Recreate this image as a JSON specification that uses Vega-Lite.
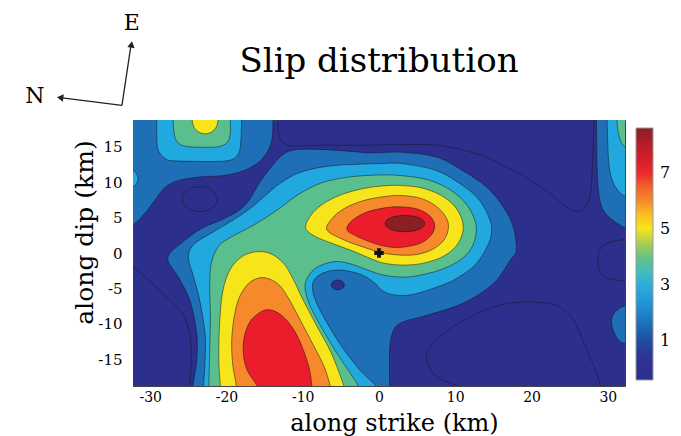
{
"$schema": "https://vega.github.io/schema/vega-lite/v6.json",
"width": 492,
"height": 266,
"autosize": {"type": "none"},
"padding": {"left": 133, "top": 120, "right": 56, "bottom": 50},
"background": "white",
"config": {"view": {"fill": "#2d2f8c", "stroke": "#444", "strokeWidth": 1}},
"title": {"text": "Slip distribution", "font": "DejaVu Serif", "fontSize": 34, "fontWeight": "normal", "color": "black", "anchor": "middle", "frame": "group", "baseline": "alphabetic", "offset": -94},
"datasets": {
"poly": [
{"l":"n","p":"N1","x":-21.2,"y":7.6},{"l":"n","p":"N1","x":-21.51,"y":8.48},{"l":"n","p":"N1","x":-22.35,"y":9.12},{"l":"n","p":"N1","x":-23.5,"y":9.35},{"l":"n","p":"N1","x":-24.65,"y":9.12},{"l":"n","p":"N1","x":-25.49,"y":8.48},{"l":"n","p":"N1","x":-25.8,"y":7.6},{"l":"n","p":"N1","x":-25.49,"y":6.73},{"l":"n","p":"N1","x":-24.65,"y":6.08},{"l":"n","p":"N1","x":-23.5,"y":5.85},{"l":"n","p":"N1","x":-22.35,"y":6.08},{"l":"n","p":"N1","x":-21.51,"y":6.73},
{"l":"n","p":"N2","x":-34,"y":-1.8},{"l":"n","p":"N2","x":-32.25,"y":-2.0},{"l":"n","p":"N2","x":-30,"y":-4.0},{"l":"n","p":"N2","x":-28,"y":-6.0},{"l":"n","p":"N2","x":-26.5,"y":-7.6},{"l":"n","p":"N2","x":-25.5,"y":-9.0},{"l":"n","p":"N2","x":-24.9,"y":-11},{"l":"n","p":"N2","x":-24.6,"y":-13.5},{"l":"n","p":"N2","x":-24.65,"y":-16},{"l":"n","p":"N2","x":-24.8,"y":-18.75},{"l":"n","p":"N2","x":-24.9,"y":-20},{"l":"n","p":"N2","x":-34,"y":-20},
{"l":"n","p":"N3","x":6.2,"y":-14.3},{"l":"n","p":"N3","x":7.4,"y":-12.4},{"l":"n","p":"N3","x":9.5,"y":-10.5},{"l":"n","p":"N3","x":12,"y":-9.0},{"l":"n","p":"N3","x":14.5,"y":-7.8},{"l":"n","p":"N3","x":17,"y":-7.1},{"l":"n","p":"N3","x":20,"y":-6.9},{"l":"n","p":"N3","x":23.3,"y":-7.4},{"l":"n","p":"N3","x":25.4,"y":-9.3},{"l":"n","p":"N3","x":26.8,"y":-12.5},{"l":"n","p":"N3","x":28,"y":-15.5},{"l":"n","p":"N3","x":28.6,"y":-17},{"l":"n","p":"N3","x":29,"y":-18.75},{"l":"n","p":"N3","x":29.2,"y":-20},{"l":"n","p":"N3","x":10.5,"y":-20},{"l":"n","p":"N3","x":10.2,"y":-18.75},{"l":"n","p":"N3","x":7.6,"y":-17.5},{"l":"n","p":"N3","x":6.5,"y":-15.8},
{"l":"n","p":"N4","x":34,"y":2.1},{"l":"n","p":"N4","x":32.25,"y":1.9},{"l":"n","p":"N4","x":30.5,"y":1.6},{"l":"n","p":"N4","x":29.3,"y":1.0},{"l":"n","p":"N4","x":28.8,"y":0},{"l":"n","p":"N4","x":28.7,"y":-1.2},{"l":"n","p":"N4","x":28.9,"y":-2.5},{"l":"n","p":"N4","x":29.6,"y":-3.4},{"l":"n","p":"N4","x":31,"y":-3.8},{"l":"n","p":"N4","x":32.25,"y":-3.9},{"l":"n","p":"N4","x":34,"y":-4.1},
{"l":"n","p":"N5","x":-13.3,"y":20},{"l":"n","p":"N5","x":-13.3,"y":18.75},{"l":"n","p":"N5","x":-13.1,"y":16.5},{"l":"n","p":"N5","x":-12.5,"y":15.5},{"l":"n","p":"N5","x":-11,"y":15.1},{"l":"n","p":"N5","x":-7,"y":15.2},{"l":"n","p":"N5","x":-1.2,"y":15.2},{"l":"n","p":"N5","x":3,"y":15.3},{"l":"n","p":"N5","x":7.6,"y":15.2},{"l":"n","p":"N5","x":11,"y":14.5},{"l":"n","p":"N5","x":14.1,"y":13.5},{"l":"n","p":"N5","x":16.5,"y":12.2},{"l":"n","p":"N5","x":18.5,"y":11.2},{"l":"n","p":"N5","x":20.5,"y":9.8},{"l":"n","p":"N5","x":22.4,"y":8.4},{"l":"n","p":"N5","x":24,"y":7.0},{"l":"n","p":"N5","x":25,"y":6.2},{"l":"n","p":"N5","x":26,"y":5.9},{"l":"n","p":"N5","x":26.8,"y":6.2},{"l":"n","p":"N5","x":27.5,"y":7.5},{"l":"n","p":"N5","x":27.8,"y":9.0},{"l":"n","p":"N5","x":28.0,"y":13},{"l":"n","p":"N5","x":28.2,"y":18.75},{"l":"n","p":"N5","x":28.3,"y":20},
{"l":"m","p":"A","x":-34,"y":20},{"l":"m","p":"A","x":-34,"y":3.85},{"l":"m","p":"A","x":-32.25,"y":4.0},{"l":"m","p":"A","x":-30.7,"y":5.6},{"l":"m","p":"A","x":-29.4,"y":7.4},{"l":"m","p":"A","x":-28.0,"y":9.3},{"l":"m","p":"A","x":-26.3,"y":10.2},{"l":"m","p":"A","x":-23.7,"y":10.7},{"l":"m","p":"A","x":-20.6,"y":10.9},{"l":"m","p":"A","x":-18.0,"y":11.5},{"l":"m","p":"A","x":-16.3,"y":12.4},{"l":"m","p":"A","x":-15.3,"y":13.3},{"l":"m","p":"A","x":-14.5,"y":14.5},{"l":"m","p":"A","x":-14.0,"y":16.2},{"l":"m","p":"A","x":-13.9,"y":18.75},{"l":"m","p":"A","x":-13.9,"y":20},
{"l":"m","p":"B","x":-24.4,"y":-20},{"l":"m","p":"B","x":-24.4,"y":-18.75},{"l":"m","p":"B","x":-23.9,"y":-15.1},{"l":"m","p":"B","x":-23.9,"y":-11.3},{"l":"m","p":"B","x":-24.8,"y":-6.7},{"l":"m","p":"B","x":-26.3,"y":-3.4},{"l":"m","p":"B","x":-27.7,"y":-0.7},{"l":"m","p":"B","x":-25.8,"y":1.5},{"l":"m","p":"B","x":-23.2,"y":3.5},{"l":"m","p":"B","x":-20.2,"y":4.9},{"l":"m","p":"B","x":-17.6,"y":6.7},{"l":"m","p":"B","x":-15.6,"y":10.0},{"l":"m","p":"B","x":-14.5,"y":11.6},{"l":"m","p":"B","x":-13.0,"y":13.5},{"l":"m","p":"B","x":-11.3,"y":14.5},{"l":"m","p":"B","x":-7.7,"y":14.6},{"l":"m","p":"B","x":-3.4,"y":14.3},{"l":"m","p":"B","x":-1.2,"y":14.1},{"l":"m","p":"B","x":3.1,"y":14.2},{"l":"m","p":"B","x":7.6,"y":13.5},{"l":"m","p":"B","x":11,"y":11.6},{"l":"m","p":"B","x":14.1,"y":9.3},{"l":"m","p":"B","x":16.3,"y":6.5},{"l":"m","p":"B","x":17.6,"y":3.7},{"l":"m","p":"B","x":18.0,"y":0.4},{"l":"m","p":"B","x":17.2,"y":-1.0},{"l":"m","p":"B","x":15,"y":-4.3},{"l":"m","p":"B","x":11,"y":-7.1},{"l":"m","p":"B","x":6.2,"y":-8.8},{"l":"m","p":"B","x":3.2,"y":-9.7},{"l":"m","p":"B","x":1.9,"y":-10.9},{"l":"m","p":"B","x":1.4,"y":-13.7},{"l":"m","p":"B","x":1.4,"y":-18.75},{"l":"m","p":"B","x":1.4,"y":-20},
{"l":"m","p":"M2","x":28.5,"y":20},{"l":"m","p":"M2","x":28.5,"y":18.75},{"l":"m","p":"M2","x":28.6,"y":12},{"l":"m","p":"M2","x":28.8,"y":8.5},{"l":"m","p":"M2","x":29.2,"y":6.5},{"l":"m","p":"M2","x":30.0,"y":5.2},{"l":"m","p":"M2","x":31.2,"y":4.2},{"l":"m","p":"M2","x":32.25,"y":3.6},{"l":"m","p":"M2","x":34,"y":3.4},{"l":"m","p":"M2","x":34,"y":20},
{"l":"m","p":"M3","x":34,"y":-7.2},{"l":"m","p":"M3","x":32.25,"y":-7.4},{"l":"m","p":"M3","x":30.8,"y":-8.5},{"l":"m","p":"M3","x":30.5,"y":-10},{"l":"m","p":"M3","x":31.2,"y":-12},{"l":"m","p":"M3","x":32.25,"y":-12.8},{"l":"m","p":"M3","x":34,"y":-13},
{"l":"nd","p":"ND","x":-4.55,"y":-4.5},{"l":"nd","p":"ND","x":-4.8,"y":-4.0},{"l":"nd","p":"ND","x":-5.4,"y":-3.8},{"l":"nd","p":"ND","x":-6.0,"y":-4.0},{"l":"nd","p":"ND","x":-6.25,"y":-4.5},{"l":"nd","p":"ND","x":-6.0,"y":-5.0},{"l":"nd","p":"ND","x":-5.4,"y":-5.2},{"l":"nd","p":"ND","x":-4.8,"y":-5.0},
{"l":"c","p":"C1","x":-23.0,"y":-20},{"l":"c","p":"C1","x":-23.0,"y":-18.75},{"l":"c","p":"C1","x":-22.8,"y":-15},{"l":"c","p":"C1","x":-22.8,"y":-11.4},{"l":"c","p":"C1","x":-23.5,"y":-6.7},{"l":"c","p":"C1","x":-24.3,"y":-3.4},{"l":"c","p":"C1","x":-25.0,"y":-0.5},{"l":"c","p":"C1","x":-24.2,"y":1.3},{"l":"c","p":"C1","x":-22,"y":2.8},{"l":"c","p":"C1","x":-19.5,"y":4.4},{"l":"c","p":"C1","x":-17,"y":6.2},{"l":"c","p":"C1","x":-15,"y":8.0},{"l":"c","p":"C1","x":-13,"y":9.8},{"l":"c","p":"C1","x":-10.5,"y":11.3},{"l":"c","p":"C1","x":-7,"y":12.2},{"l":"c","p":"C1","x":-3,"y":12.5},{"l":"c","p":"C1","x":0,"y":12.6},{"l":"c","p":"C1","x":3.1,"y":12.6},{"l":"c","p":"C1","x":7.6,"y":11.6},{"l":"c","p":"C1","x":11,"y":9.5},{"l":"c","p":"C1","x":13.2,"y":7.4},{"l":"c","p":"C1","x":14.6,"y":4.5},{"l":"c","p":"C1","x":14.7,"y":2.5},{"l":"c","p":"C1","x":14.0,"y":0.5},{"l":"c","p":"C1","x":12.5,"y":-1.8},{"l":"c","p":"C1","x":10,"y":-3.7},{"l":"c","p":"C1","x":7.6,"y":-4.8},{"l":"c","p":"C1","x":5,"y":-5.7},{"l":"c","p":"C1","x":3.2,"y":-6.0},{"l":"c","p":"C1","x":1.5,"y":-5.8},{"l":"c","p":"C1","x":0.3,"y":-5.2},{"l":"c","p":"C1","x":-0.5,"y":-4.3},{"l":"c","p":"C1","x":-2,"y":-3.2},{"l":"c","p":"C1","x":-3.8,"y":-2.6},{"l":"c","p":"C1","x":-5.5,"y":-2.4},{"l":"c","p":"C1","x":-7.3,"y":-2.8},{"l":"c","p":"C1","x":-8.5,"y":-3.8},{"l":"c","p":"C1","x":-8.7,"y":-5.2},{"l":"c","p":"C1","x":-8.2,"y":-7},{"l":"c","p":"C1","x":-7,"y":-9.5},{"l":"c","p":"C1","x":-5,"y":-13},{"l":"c","p":"C1","x":-2.5,"y":-16.5},{"l":"c","p":"C1","x":-0.4,"y":-18.75},{"l":"c","p":"C1","x":-0.2,"y":-20},
{"l":"c","p":"C2","x":-29.2,"y":20},{"l":"c","p":"C2","x":-29.15,"y":18.75},{"l":"c","p":"C2","x":-29.1,"y":15.5},{"l":"c","p":"C2","x":-28.8,"y":14.2},{"l":"c","p":"C2","x":-28,"y":13.3},{"l":"c","p":"C2","x":-27,"y":13.0},{"l":"c","p":"C2","x":-23,"y":12.9},{"l":"c","p":"C2","x":-20,"y":13.0},{"l":"c","p":"C2","x":-18.8,"y":13.5},{"l":"c","p":"C2","x":-18.2,"y":14.8},{"l":"c","p":"C2","x":-18.0,"y":18.75},{"l":"c","p":"C2","x":-18.0,"y":20},
{"l":"c","p":"C3","x":-34,"y":11.8},{"l":"c","p":"C3","x":-32.25,"y":11.6},{"l":"c","p":"C3","x":-31.7,"y":11.0},{"l":"c","p":"C3","x":-31.6,"y":10.4},{"l":"c","p":"C3","x":-31.8,"y":9.8},{"l":"c","p":"C3","x":-32.25,"y":9.4},{"l":"c","p":"C3","x":-34,"y":9.2},
{"l":"c","p":"C4","x":29.9,"y":20},{"l":"c","p":"C4","x":29.9,"y":18.75},{"l":"c","p":"C4","x":30.1,"y":13},{"l":"c","p":"C4","x":30.5,"y":10.5},{"l":"c","p":"C4","x":31.2,"y":9},{"l":"c","p":"C4","x":32.25,"y":8.0},{"l":"c","p":"C4","x":34,"y":7.7},{"l":"c","p":"C4","x":34,"y":20},
{"l":"g","p":"G1","x":-22.3,"y":-20},{"l":"g","p":"G1","x":-22.3,"y":-18.75},{"l":"g","p":"G1","x":-22.2,"y":-14},{"l":"g","p":"G1","x":-22.1,"y":-9},{"l":"g","p":"G1","x":-22.2,"y":-5},{"l":"g","p":"G1","x":-22.0,"y":-1.5},{"l":"g","p":"G1","x":-21,"y":1.0},{"l":"g","p":"G1","x":-19.3,"y":2.3},{"l":"g","p":"G1","x":-17,"y":3.6},{"l":"g","p":"G1","x":-14.8,"y":5.0},{"l":"g","p":"G1","x":-12.8,"y":6.5},{"l":"g","p":"G1","x":-10.5,"y":8.3},{"l":"g","p":"G1","x":-7.5,"y":9.9},{"l":"g","p":"G1","x":-4,"y":10.7},{"l":"g","p":"G1","x":0,"y":11.0},{"l":"g","p":"G1","x":3,"y":10.9},{"l":"g","p":"G1","x":6.5,"y":10.3},{"l":"g","p":"G1","x":9.5,"y":8.8},{"l":"g","p":"G1","x":11.5,"y":6.8},{"l":"g","p":"G1","x":12.6,"y":4.5},{"l":"g","p":"G1","x":12.7,"y":2.5},{"l":"g","p":"G1","x":12,"y":0.5},{"l":"g","p":"G1","x":10.5,"y":-1.1},{"l":"g","p":"G1","x":8,"y":-2.4},{"l":"g","p":"G1","x":5,"y":-3.2},{"l":"g","p":"G1","x":3,"y":-3.4},{"l":"g","p":"G1","x":0.5,"y":-3.1},{"l":"g","p":"G1","x":-1.5,"y":-2.4},{"l":"g","p":"G1","x":-3.5,"y":-1.6},{"l":"g","p":"G1","x":-5.5,"y":-1.2},{"l":"g","p":"G1","x":-7.3,"y":-1.6},{"l":"g","p":"G1","x":-8.8,"y":-2.6},{"l":"g","p":"G1","x":-9.7,"y":-4.5},{"l":"g","p":"G1","x":-9.2,"y":-7},{"l":"g","p":"G1","x":-7.8,"y":-10},{"l":"g","p":"G1","x":-5.6,"y":-14},{"l":"g","p":"G1","x":-2.7,"y":-18.75},{"l":"g","p":"G1","x":-2.5,"y":-20},
{"l":"g","p":"G2","x":-27.0,"y":20},{"l":"g","p":"G2","x":-27.0,"y":18.75},{"l":"g","p":"G2","x":-26.8,"y":16.5},{"l":"g","p":"G2","x":-26.2,"y":15.4},{"l":"g","p":"G2","x":-25,"y":15.0},{"l":"g","p":"G2","x":-23,"y":14.9},{"l":"g","p":"G2","x":-21,"y":15.0},{"l":"g","p":"G2","x":-19.9,"y":15.6},{"l":"g","p":"G2","x":-19.5,"y":16.8},{"l":"g","p":"G2","x":-19.5,"y":18.75},{"l":"g","p":"G2","x":-19.5,"y":20},
{"l":"g","p":"G3","x":31.2,"y":20},{"l":"g","p":"G3","x":31.2,"y":18.75},{"l":"g","p":"G3","x":31.3,"y":17.5},{"l":"g","p":"G3","x":31.6,"y":16},{"l":"g","p":"G3","x":32.25,"y":15},{"l":"g","p":"G3","x":34,"y":14.8},{"l":"g","p":"G3","x":34,"y":20},
{"l":"y","p":"Y1","x":-9.6,"y":3.5},{"l":"y","p":"Y1","x":-9,"y":5.2},{"l":"y","p":"Y1","x":-7.5,"y":6.8},{"l":"y","p":"Y1","x":-5,"y":8.2},{"l":"y","p":"Y1","x":-2,"y":9.1},{"l":"y","p":"Y1","x":1,"y":9.5},{"l":"y","p":"Y1","x":3,"y":9.5},{"l":"y","p":"Y1","x":5.5,"y":9.2},{"l":"y","p":"Y1","x":8,"y":8.2},{"l":"y","p":"Y1","x":10,"y":6.5},{"l":"y","p":"Y1","x":11,"y":4.2},{"l":"y","p":"Y1","x":10.8,"y":2.3},{"l":"y","p":"Y1","x":9.8,"y":0.6},{"l":"y","p":"Y1","x":8,"y":-0.7},{"l":"y","p":"Y1","x":5.5,"y":-1.5},{"l":"y","p":"Y1","x":3,"y":-1.7},{"l":"y","p":"Y1","x":0.5,"y":-1.4},{"l":"y","p":"Y1","x":-1.5,"y":-0.6},{"l":"y","p":"Y1","x":-3.5,"y":0.3},{"l":"y","p":"Y1","x":-6,"y":1.3},{"l":"y","p":"Y1","x":-8.3,"y":2.3},
{"l":"y","p":"Y2","x":-20.8,"y":-20},{"l":"y","p":"Y2","x":-20.8,"y":-18.75},{"l":"y","p":"Y2","x":-21.0,"y":-15},{"l":"y","p":"Y2","x":-20.9,"y":-10},{"l":"y","p":"Y2","x":-20.5,"y":-5.5},{"l":"y","p":"Y2","x":-19.5,"y":-2.3},{"l":"y","p":"Y2","x":-17.8,"y":-0.4},{"l":"y","p":"Y2","x":-15.8,"y":0.2},{"l":"y","p":"Y2","x":-14,"y":-0.2},{"l":"y","p":"Y2","x":-12.4,"y":-1.6},{"l":"y","p":"Y2","x":-11.2,"y":-3.8},{"l":"y","p":"Y2","x":-10.0,"y":-6.5},{"l":"y","p":"Y2","x":-8.3,"y":-10},{"l":"y","p":"Y2","x":-6.3,"y":-14},{"l":"y","p":"Y2","x":-4.6,"y":-18.75},{"l":"y","p":"Y2","x":-4.5,"y":-20},
{"l":"y","p":"Y3","x":-24.5,"y":20},{"l":"y","p":"Y3","x":-24.5,"y":18.75},{"l":"y","p":"Y3","x":-24.27,"y":17.78},{"l":"y","p":"Y3","x":-23.65,"y":17.06},{"l":"y","p":"Y3","x":-22.8,"y":16.8},{"l":"y","p":"Y3","x":-21.95,"y":17.06},{"l":"y","p":"Y3","x":-21.33,"y":17.78},{"l":"y","p":"Y3","x":-21.1,"y":18.75},{"l":"y","p":"Y3","x":-21.1,"y":20},
{"l":"o","p":"O1","x":-6.8,"y":3.2},{"l":"o","p":"O1","x":-6.2,"y":4.8},{"l":"o","p":"O1","x":-4.5,"y":6.3},{"l":"o","p":"O1","x":-2,"y":7.4},{"l":"o","p":"O1","x":1,"y":8.0},{"l":"o","p":"O1","x":3,"y":8.1},{"l":"o","p":"O1","x":5.5,"y":7.7},{"l":"o","p":"O1","x":7.5,"y":6.6},{"l":"o","p":"O1","x":8.8,"y":5.0},{"l":"o","p":"O1","x":9.1,"y":3.5},{"l":"o","p":"O1","x":8.5,"y":1.8},{"l":"o","p":"O1","x":7,"y":0.5},{"l":"o","p":"O1","x":5,"y":-0.2},{"l":"o","p":"O1","x":3,"y":-0.3},{"l":"o","p":"O1","x":1,"y":-0.1},{"l":"o","p":"O1","x":-0.5,"y":0.3},{"l":"o","p":"O1","x":-2.5,"y":1.0},{"l":"o","p":"O1","x":-4.5,"y":1.8},
{"l":"o","p":"O2","x":-18.7,"y":-20},{"l":"o","p":"O2","x":-18.7,"y":-18.75},{"l":"o","p":"O2","x":-19.2,"y":-15.5},{"l":"o","p":"O2","x":-19.3,"y":-12},{"l":"o","p":"O2","x":-18.9,"y":-8.5},{"l":"o","p":"O2","x":-18.2,"y":-6},{"l":"o","p":"O2","x":-17,"y":-4.2},{"l":"o","p":"O2","x":-15.6,"y":-3.5},{"l":"o","p":"O2","x":-14.3,"y":-3.7},{"l":"o","p":"O2","x":-13.0,"y":-4.6},{"l":"o","p":"O2","x":-11.8,"y":-6.5},{"l":"o","p":"O2","x":-10.3,"y":-9.5},{"l":"o","p":"O2","x":-8.6,"y":-13},{"l":"o","p":"O2","x":-7.2,"y":-16},{"l":"o","p":"O2","x":-6.4,"y":-18.75},{"l":"o","p":"O2","x":-6.3,"y":-20},
{"l":"r","p":"R1","x":-4.2,"y":3.3},{"l":"r","p":"R1","x":-3.5,"y":4.6},{"l":"r","p":"R1","x":-1.5,"y":5.8},{"l":"r","p":"R1","x":1,"y":6.4},{"l":"r","p":"R1","x":3,"y":6.5},{"l":"r","p":"R1","x":5,"y":6.2},{"l":"r","p":"R1","x":6.6,"y":5.3},{"l":"r","p":"R1","x":7.3,"y":4.0},{"l":"r","p":"R1","x":6.9,"y":2.6},{"l":"r","p":"R1","x":5.5,"y":1.4},{"l":"r","p":"R1","x":3,"y":0.8},{"l":"r","p":"R1","x":1,"y":0.9},{"l":"r","p":"R1","x":-1,"y":1.5},{"l":"r","p":"R1","x":-3,"y":2.4},
{"l":"r","p":"R2","x":-16.0,"y":-20},{"l":"r","p":"R2","x":-16.0,"y":-18.75},{"l":"r","p":"R2","x":-17.3,"y":-16.5},{"l":"r","p":"R2","x":-17.8,"y":-14},{"l":"r","p":"R2","x":-17.6,"y":-11.5},{"l":"r","p":"R2","x":-16.8,"y":-9.5},{"l":"r","p":"R2","x":-15.5,"y":-8.3},{"l":"r","p":"R2","x":-14.5,"y":-8.0},{"l":"r","p":"R2","x":-13.3,"y":-8.4},{"l":"r","p":"R2","x":-12,"y":-9.6},{"l":"r","p":"R2","x":-10.8,"y":-11.5},{"l":"r","p":"R2","x":-9.8,"y":-14},{"l":"r","p":"R2","x":-9.1,"y":-16.5},{"l":"r","p":"R2","x":-8.8,"y":-18.75},{"l":"r","p":"R2","x":-8.8,"y":-20},
{"l":"d","p":"D","x":6.0,"y":4.15},{"l":"d","p":"D","x":5.65,"y":4.73},{"l":"d","p":"D","x":4.7,"y":5.15},{"l":"d","p":"D","x":3.4,"y":5.3},{"l":"d","p":"D","x":2.1,"y":5.15},{"l":"d","p":"D","x":1.15,"y":4.73},{"l":"d","p":"D","x":0.8,"y":4.15},{"l":"d","p":"D","x":1.15,"y":3.58},{"l":"d","p":"D","x":2.1,"y":3.15},{"l":"d","p":"D","x":3.4,"y":3.0},{"l":"d","p":"D","x":4.7,"y":3.15},{"l":"d","p":"D","x":5.65,"y":3.58}
],
"hypo": [{"x": 0, "y": 0}],
"arrows": [{"x": -33.7, "y": 20.8, "x2": -32.5, "y2": 29.4}, {"x": -33.7, "y": 20.8, "x2": -41.8, "y2": 21.9}],
"heads": [{"x": -32.45, "y": 29.4, "a": 8.5}, {"x": -41.8, "y": 21.9, "a": 277}],
"labels": [{"t": "E", "x": -32.4, "y": 32.4}, {"t": "N", "x": -45.1, "y": 22.1}],
"cb": [{"v": -0.4}, {"v": 8.6}]
},
"encoding": {
"x": {"field": "x", "type": "quantitative", "scale": {"domain": [-32.25, 32.25], "nice": false, "zero": false},
 "axis": {"values": [-30,-20,-10,0,10,20,30], "labelExpr": "replace(datum.label, '\u2212', '-')", "title": "along strike (km)", "titleFont": "DejaVu Serif", "titleFontSize": 24, "titleFontWeight": "normal", "titleColor": "black", "titleX": 261, "titleY": 44, "titleAlign": "center", "titleBaseline": "alphabetic", "labelFont": "DejaVu Serif", "labelFontSize": 14, "labelColor": "black", "ticks": false, "domain": false, "grid": false, "labelPadding": 4}},
"y": {"field": "y", "type": "quantitative", "scale": {"domain": [-18.75, 18.75], "nice": false, "zero": false},
 "axis": {"values": [-15,-10,-5,0,5,10,15], "labelExpr": "replace(datum.label, '\u2212', '-')", "title": "along dip (km)", "titleFont": "DejaVu Serif", "titleFontSize": 25, "titleFontWeight": "normal", "titleColor": "black", "titleX": -41, "titleY": 112, "titleAngle": 270, "titleAlign": "center", "titleBaseline": "alphabetic", "labelFont": "DejaVu Serif", "labelFontSize": 15, "labelColor": "black", "ticks": false, "domain": false, "grid": false, "labelPadding": 11}}
},
"layer": [
{"data": {"name": "poly"}, "transform": [{"filter": "datum.l == 'n'"}], "mark": {"type": "line", "interpolate": "cardinal-closed", "filled": true, "fill": "#2d2f8c", "stroke": "#111", "strokeWidth": 0.7, "strokeOpacity": 0.6, "clip": true}, "encoding": {"detail": {"field": "p"}, "order": {"value": null}}},
{"data": {"name": "poly"}, "transform": [{"filter": "datum.l == 'm'"}], "mark": {"type": "line", "interpolate": "cardinal-closed", "filled": true, "fill": "#1f6fb7", "stroke": "#111", "strokeWidth": 0.7, "strokeOpacity": 0.7, "clip": true}, "encoding": {"detail": {"field": "p"}, "order": {"value": null}}},
{"data": {"name": "poly"}, "transform": [{"filter": "datum.l == 'nd'"}], "mark": {"type": "line", "interpolate": "cardinal-closed", "filled": true, "fill": "#2d2f8c", "stroke": "#111", "strokeWidth": 0.7, "strokeOpacity": 0.7, "clip": true}, "encoding": {"detail": {"field": "p"}, "order": {"value": null}}},
{"data": {"name": "poly"}, "transform": [{"filter": "datum.l == 'c'"}], "mark": {"type": "line", "interpolate": "cardinal-closed", "filled": true, "fill": "#21a8df", "stroke": "#111", "strokeWidth": 0.7, "strokeOpacity": 0.7, "clip": true}, "encoding": {"detail": {"field": "p"}, "order": {"value": null}}},
{"data": {"name": "poly"}, "transform": [{"filter": "datum.l == 'g'"}], "mark": {"type": "line", "interpolate": "cardinal-closed", "filled": true, "fill": "#5bbf8d", "stroke": "#111", "strokeWidth": 0.7, "strokeOpacity": 0.7, "clip": true}, "encoding": {"detail": {"field": "p"}, "order": {"value": null}}},
{"data": {"name": "poly"}, "transform": [{"filter": "datum.l == 'y'"}], "mark": {"type": "line", "interpolate": "cardinal-closed", "filled": true, "fill": "#f7e51c", "stroke": "#111", "strokeWidth": 0.7, "strokeOpacity": 0.7, "clip": true}, "encoding": {"detail": {"field": "p"}, "order": {"value": null}}},
{"data": {"name": "poly"}, "transform": [{"filter": "datum.l == 'o'"}], "mark": {"type": "line", "interpolate": "cardinal-closed", "filled": true, "fill": "#f5892b", "stroke": "#111", "strokeWidth": 0.7, "strokeOpacity": 0.7, "clip": true}, "encoding": {"detail": {"field": "p"}, "order": {"value": null}}},
{"data": {"name": "poly"}, "transform": [{"filter": "datum.l == 'r'"}], "mark": {"type": "line", "interpolate": "cardinal-closed", "filled": true, "fill": "#eb1c2b", "stroke": "#111", "strokeWidth": 0.7, "strokeOpacity": 0.7, "clip": true}, "encoding": {"detail": {"field": "p"}, "order": {"value": null}}},
{"data": {"name": "poly"}, "transform": [{"filter": "datum.l == 'd'"}], "mark": {"type": "line", "interpolate": "cardinal-closed", "filled": true, "fill": "#8b1f24", "stroke": "#111", "strokeWidth": 0.7, "strokeOpacity": 0.7, "clip": true}, "encoding": {"detail": {"field": "p"}, "order": {"value": null}}},
{"data": {"name": "hypo"}, "mark": {"type": "point", "shape": "cross", "filled": true, "color": "#111", "size": 90, "opacity": 1}},
{"data": {"name": "arrows"}, "mark": {"type": "rule", "color": "#222", "strokeWidth": 1.3}, "encoding": {"x2": {"field": "x2"}, "y2": {"field": "y2"}}},
{"data": {"name": "heads"}, "mark": {"type": "point", "shape": "triangle-up", "filled": true, "color": "#222", "size": 55, "opacity": 1}, "encoding": {"angle": {"field": "a", "type": "quantitative", "scale": null}}},
{"data": {"name": "labels"}, "mark": {"type": "text", "font": "DejaVu Serif", "fontSize": 22, "color": "black", "align": "center", "baseline": "middle"}, "encoding": {"text": {"field": "t"}}},
{"data": {"name": "cb"}, "mark": {"type": "point", "fillOpacity": 0, "strokeOpacity": 0, "size": 1}, "encoding": {"x": {"datum": 0}, "y": {"datum": 0},
 "color": {"field": "v", "type": "quantitative",
  "scale": {"type": "linear", "domain": [-0.4, 0.4, 1.0, 1.6, 2.2, 2.8, 3.4, 3.9, 4.4, 5.0, 5.5, 6.0, 6.6, 7.1, 7.8, 8.6], "range": ["#2d2f8c", "#2e3192", "#1f4ea3", "#1c6fb8", "#1f8fd0", "#22a9e0", "#3fbcc4", "#5bbf8d", "#9ccc5a", "#f7e51c", "#f9c11e", "#f5892b", "#f15a2a", "#eb1c2b", "#c41e2a", "#8b1f24"], "interpolate": "rgb"},
  "legend": {"orient": "none", "legendX": 503, "legendY": 8, "direction": "vertical", "gradientLength": 252, "gradientThickness": 17, "title": null, "values": [1, 3, 5, 7], "labelFont": "DejaVu Serif", "labelFontSize": 16, "labelColor": "black", "labelOffset": 7, "gradientStrokeColor": "#999", "gradientStrokeWidth": 1}}}}
]
}
